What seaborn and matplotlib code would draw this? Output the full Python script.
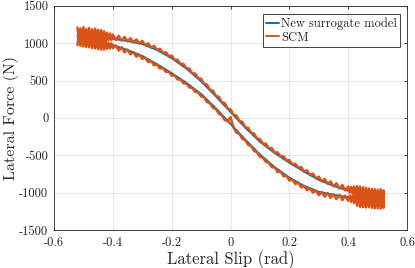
import numpy as np
import pandas as pd
import matplotlib
matplotlib.use("Agg")
import matplotlib.pyplot as plt
import seaborn as sns

# ---------------- data ----------------
# New surrogate model: two branches of the hysteresis loop (knots every 0.05 rad)
surr_slip = [-0.52, -0.50, -0.45, -0.40, -0.35, -0.30, -0.25, -0.20, -0.15, -0.10, -0.05,
             0.00, 0.05, 0.10, 0.15, 0.20, 0.25, 0.30, 0.35, 0.40, 0.45, 0.50, 0.52]
surr_upper = [1100, 1100, 1085, 1060, 1030, 990, 910, 800, 660, 490, 290,
              80, -130, -320, -470, -600, -720, -830, -910, -975, -1030, -1070, -1085]
surr_lower = [1085, 1070, 1030, 975, 910, 830, 720, 600, 470, 320, 130,
              -80, -290, -490, -660, -800, -910, -990, -1030, -1060, -1085, -1100, -1100]

# SCM (noisy): slip grid 0.005 rad at the ends, 0.01 rad in the middle
scm_slip = ([round(-0.52 + 0.005 * i, 3) for i in range(25)]
            + [round(-0.39 + 0.01 * i, 2) for i in range(79)]
            + [round(0.40 + 0.005 * i, 3) for i in range(25)])
scm_upper = [
    # left end (-0.52 .. -0.40)
    1210, 1040, 1200, 1030, 1215, 1050, 1190, 1025, 1205, 1035,
    1185, 1030, 1195, 1020, 1180, 1030, 1175, 1020, 1160, 1030,
    1140, 1040, 1130, 1045, 1115,
    # middle (-0.39 .. 0.39)
    1044, 1098, 1034, 1084, 1025, 1067, 1009, 1051, 996, 1032,
    974, 998, 942, 966, 912, 926, 868, 882, 827, 835,
    777, 779, 721, 723, 665,
    661, 597, 593, 529, 525, 455, 445, 375, 365, 295,
    283, 211, 199, 127, 115, 43, 31, -41, -53, -125,
    -133, -201, -209, -277, -285, -345, -345, -405, -405,
    -465, -461, -517, -513, -569, -565, -622, -613, -670, -658,
    -718, -702, -764, -746, -810, -788, -850, -817, -883, -849,
    -918, -875, -946, -899, -972,
    # right end (0.40 .. 0.52)
    -920, -1000, -925, -1010, -920, -1060, -915, -1070, -920, -1085,
    -930, -1090, -935, -1110, -945, -1120, -950, -1130, -955, -1140,
    -960, -1150, -955, -1145, -970]
scm_lower = [
    # left end (-0.52 .. -0.40)
    975, 1140, 965, 1150, 955, 1140, 950, 1125, 945, 1115,
    935, 1100, 930, 1090, 920, 1075, 915, 1065, 915, 1020,
    925, 1005, 930, 1000, 935,
    # middle (-0.39 .. 0.39)
    970, 902, 944, 878, 915, 852, 880, 820, 847, 790,
    808, 749, 761, 705, 716, 661, 668, 616, 620, 567,
    566, 515, 514, 463, 462,
    408, 402, 348, 342, 288, 274, 212, 198, 136, 122,
    56, 38, -28, -46, 10, -130, -196, -214, -280, -298,
    -362, -378, -442, -458, -522, -532, -590, -600, -658,
    -663, -726, -718, -782, -774, -838, -824, -885, -865, -929,
    -910, -969, -940, -1001, -971, -1035, -993, -1054, -1006, -1070,
    -1022, -1087, -1031, -1101, -1041,
    # right end (0.40 .. 0.52)
    -1110, -1040, -1125, -1035, -1140, -1015, -1175, -1010, -1190, -1020,
    -1195, -1015, -1200, -1020, -1195, -1010, -1205, -1025, -1210, -1015,
    -1210, -1030, -1215, -1020, -1205]

x_ticks = [-0.6, -0.4, -0.2, 0, 0.2, 0.4, 0.6]
x_ticklabels = ["-0.6", "-0.4", "-0.2", "0", "0.2", "0.4", "0.6"]
y_ticks = [-1500, -1000, -500, 0, 500, 1000, 1500]
y_ticklabels = ["-1500", "-1000", "-500", "0", "500", "1000", "1500"]

series_names = ["New surrogate model", "SCM"]
colors = ["#0072BD", "#D95319"]

# build loop tables (lower branch left->right, upper branch right->left)
surr_df = pd.DataFrame({
    "slip": surr_slip + surr_slip[::-1],
    "force": surr_lower + surr_upper[::-1],
})
scm_df = pd.DataFrame({
    "slip": scm_slip + scm_slip[::-1],
    "force": scm_lower + scm_upper[::-1],
})

# ---------------- style ----------------
sns.set_theme(style="white")
plt.rcParams["font.family"] = ["cmr10", "DejaVu Serif"]
plt.rcParams["axes.unicode_minus"] = False
plt.rcParams["mathtext.fontset"] = "cm"

fig = plt.figure(figsize=(4.15, 2.68), dpi=100)
ax = fig.add_axes([0.130, 0.142, 0.851, 0.836])

sns.lineplot(data=surr_df, x="slip", y="force", sort=False, estimator=None,
             color=colors[0], linewidth=1.4, ax=ax, label=series_names[0])
sns.lineplot(data=scm_df, x="slip", y="force", sort=False, estimator=None,
             color=colors[1], linewidth=1.8, ax=ax, label=series_names[1])

ax.set_xlim(-0.6, 0.6)
ax.set_ylim(-1500, 1500)
ax.set_xticks(x_ticks)
ax.set_xticklabels(x_ticklabels)
ax.set_yticks(y_ticks)
ax.set_yticklabels(y_ticklabels)

ax.grid(True, color="#262626", alpha=0.12, linewidth=0.6)
for sp in ax.spines.values():
    sp.set_visible(True)
    sp.set_color("#262626")
    sp.set_linewidth(0.6)
ax.tick_params(direction="in", length=2.5, width=0.6, colors="#262626",
               labelsize=9, top=True, right=True, pad=4)
ax.tick_params(axis="x", pad=5)

ax.set_xlabel("Lateral Slip (rad)", fontsize=12, color="#262626", labelpad=1)
ax.set_ylabel("Lateral Force (N)", fontsize=11.5, color="#262626")
ax.yaxis.set_label_coords(-0.098, 0.5)

leg = ax.legend(loc="upper right", bbox_to_anchor=(0.98, 0.962), fontsize=9,
                frameon=True, fancybox=False, framealpha=1, edgecolor="#262626",
                handlelength=1.0, handletextpad=0.2, borderpad=0.25,
                labelspacing=0.1, borderaxespad=0)
leg.get_frame().set_linewidth(0.6)
for line in leg.get_lines():
    line.set_linewidth(1.4)

fig.savefig("out.png", dpi=100)
